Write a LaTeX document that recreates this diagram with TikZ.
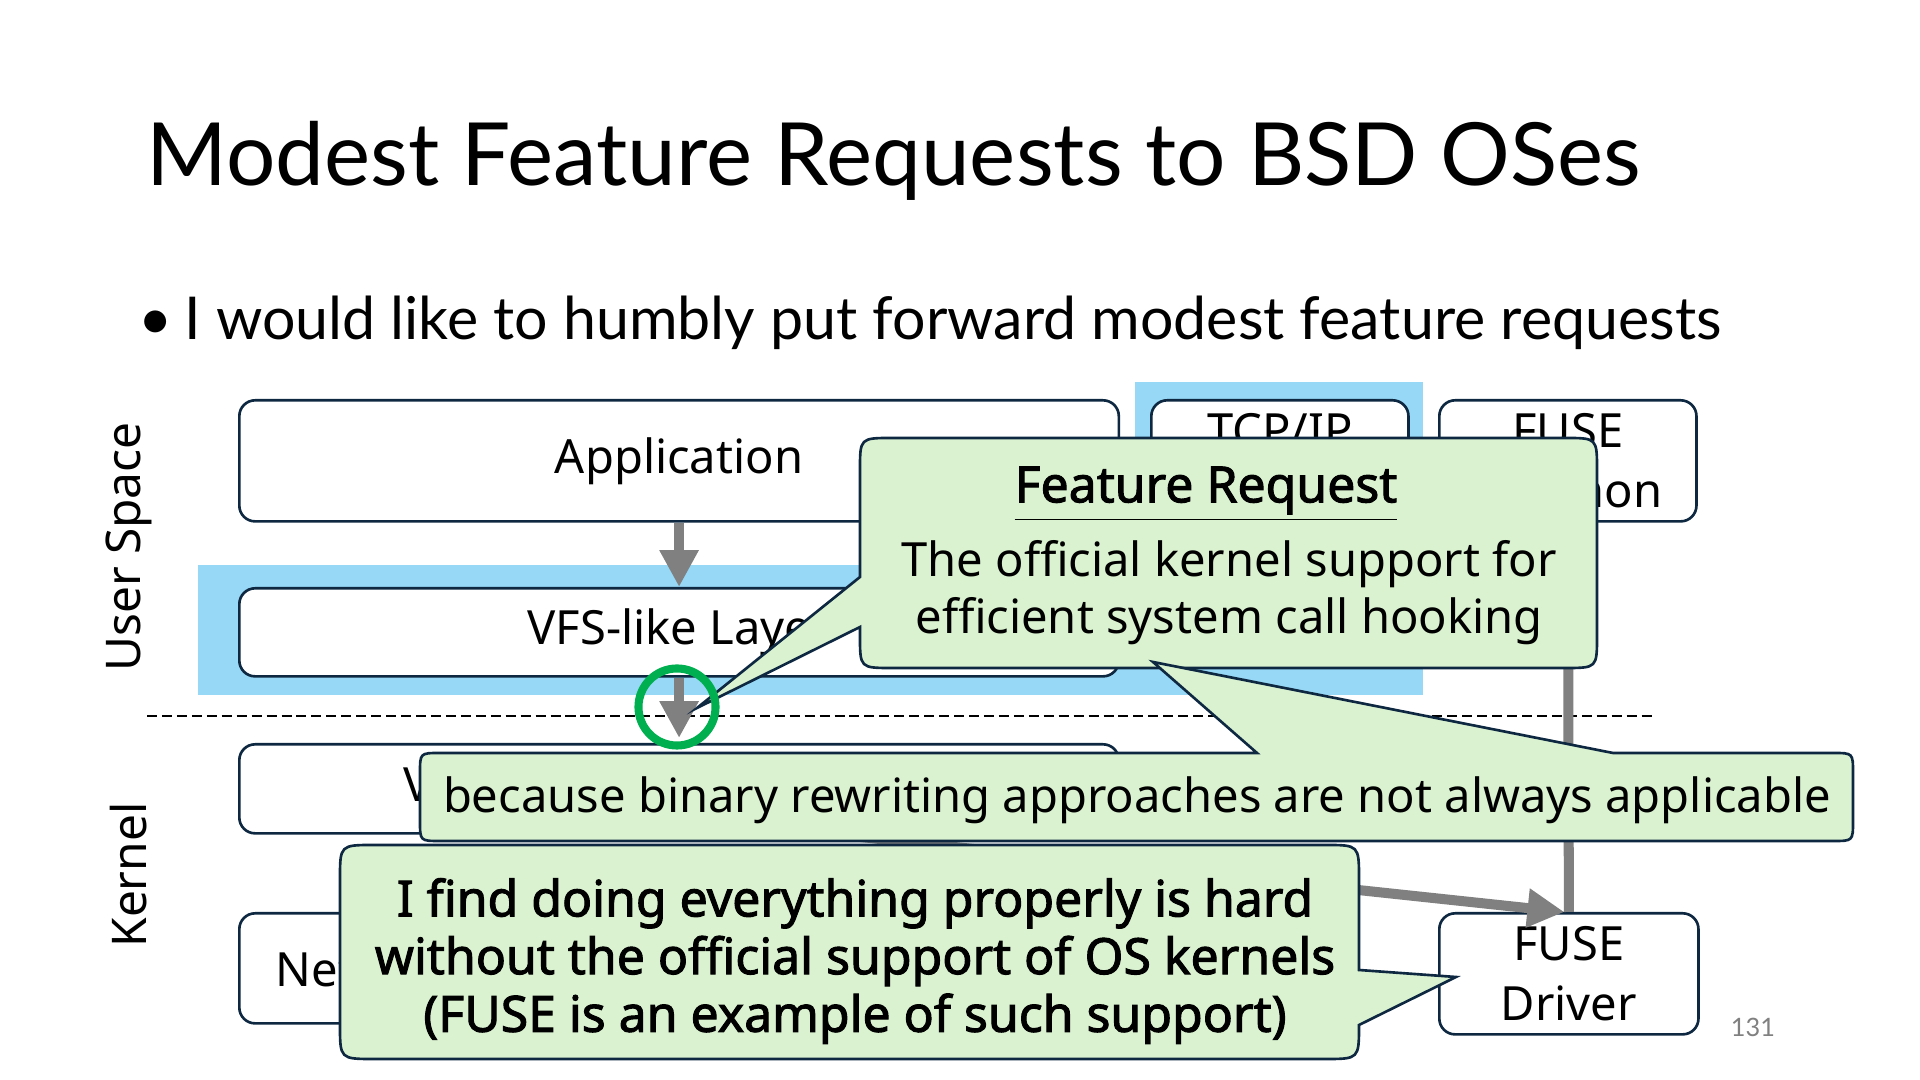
\documentclass[tikz,border=0pt]{standalone}
\usepackage{fontspec}
\setmainfont{Noto Sans}[BoldFont={*}, BoldFeatures={FakeBold=2}]
\newfontfamily\lightfont{Lato}
\usetikzlibrary{arrows.meta}
\definecolor{navy}{HTML}{0E2841}
\definecolor{skyblue}{RGB}{150,216,245}
\definecolor{notegreen}{RGB}{218,242,208}
\definecolor{ringgreen}{HTML}{00B050}

\begin{document}
\begin{tikzpicture}[x=0.01cm, y=-0.01cm, every node/.style={font=\fontsize{13.4}{17}\selectfont},
	layer/.style={draw=navy, line width=0.75pt, fill=white, rounded corners=4.5pt, anchor=north west, inner sep=0pt, align=center},
	flow/.style={draw=gray, line width=2.85pt, -{Triangle[length=10.5pt, width=10.5pt]}},
	note/.style={draw=navy, line width=0.75pt, fill=notegreen}]
	\useasboundingbox (0,0) rectangle (1920,1080);
	% title and bullet
	\node[anchor=base west, font=\lightfont\fontsize{24.8}{30}\selectfont] (title) at (134,186) {Modest Feature Requests to BSD OSes};
	\node[anchor=base west, font=\lightfont\fontsize{16.8}{20}\selectfont] (intro) at (126,340) {•\hspace{0.2em}I would like to humbly put forward modest feature requests};
	% highlighted layers and the user/kernel border
	\fill[skyblue] (198,565) rectangle (1423,695);
	\fill[skyblue] (1135,382) rectangle (1423,695);
	\draw[line width=0.6pt, dash pattern=on 2.85pt off 1.4pt] (147,716) -- (1655,716);
	\node[rotate=90, font=\fontsize{13.6}{17}\selectfont] (uspace) at (129,547) {User Space};
	\node[rotate=90, font=\fontsize{13.6}{17}\selectfont] (kspace) at (129,875) {Kernel};
	% user space
	\node[layer, minimum width=8.79cm, minimum height=1.21cm] (app) at (238,399) {Application};
	\node[layer, minimum width=8.79cm, minimum height=0.88cm] (vfs) at (238,587) {VFS-like Layer};
	\node[layer, minimum width=2.57cm, minimum height=1.21cm] (tcp) at (1150,399) {TCP/IP\\Stack};
	\node[layer, minimum width=2.57cm, minimum height=1.21cm] (fusedm) at (1438,399) {FUSE\\Daemon};
	% kernel
	\node[layer, minimum width=8.79cm, minimum height=0.89cm, align=left, text width=5.5cm] (vfsk) at (238,743) {Virtual File System (VFS)};
	\node[layer, minimum width=3.92cm, minimum height=1.1cm] (net) at (238,912) {Network Stack};
	\node[layer, minimum width=2.59cm, minimum height=1.21cm] (fused) at (1438,912) {FUSE\\Driver};
	% flows
	\draw[flow] (app.south) -- (vfs.north);
	\draw[flow] (vfs.south) -- ([yshift=0.05cm]vfsk.north);
	\draw[flow] ([xshift=1.6cm]vfsk.south) -- ([xshift=-0.045cm]fused.north);
	\draw[gray, line width=2.85pt] (fusedm.south) -- (fused.north);
	% feature request callout
	\draw[note] (697,708) -- (860,627) -- (860,636) .. controls (860,668) .. (892,668) -- (1565,668) .. controls (1597,668) .. (1597,636) -- (1597,470) .. controls (1597,438) .. (1565,438) -- (892,438) .. controls (860,438) .. (860,470) -- (860,577) -- cycle;
	\node[font=\bfseries\fontsize{14.2}{17}\selectfont] (reqhead) at (1206,494) {\underline{Feature Request}};
	\node[align=center, font=\fontsize{13.4}{16.2}\selectfont] (reqbody) at (1229,593) {The official kernel support for\\efficient system call hooking};
	\node[circle, draw=ringgreen, line width=2.3pt, minimum size=0.77cm, inner sep=0pt] (ring) at (677,707) {};
	% reason callout
	\draw[note] (1153,662) -- (1613,753) -- (1833,753) .. controls (1853,753) .. (1853,773) -- (1853,821) .. controls (1853,841) .. (1833,841) -- (440,841) .. controls (420,841) .. (420,821) -- (420,773) .. controls (420,753) .. (440,753) -- (1257,753) -- cycle;
	\node (reason) at (1137,800) {because binary rewriting approaches are not always applicable};
	% FUSE callout
	\draw[note] (1456,977) -- (1359,1025) .. controls (1359,1059) .. (1325,1059) -- (374,1059) .. controls (340,1059) .. (340,1025) -- (340,879) .. controls (340,845) .. (374,845) -- (1325,845) .. controls (1359,845) .. (1359,879) -- (1359,970) -- cycle;
	\node[align=center, font=\bfseries\fontsize{14.2}{16.4}\selectfont] (hard) at (855,961) {I find doing everything properly is hard\\without the official support of OS kernels\\(FUSE is an example of such support)};
	\node[text=gray, font=\lightfont\fontsize{7.2}{9}\selectfont] (pgnum) at (1753,1027) {131};
\end{tikzpicture}
\end{document}
